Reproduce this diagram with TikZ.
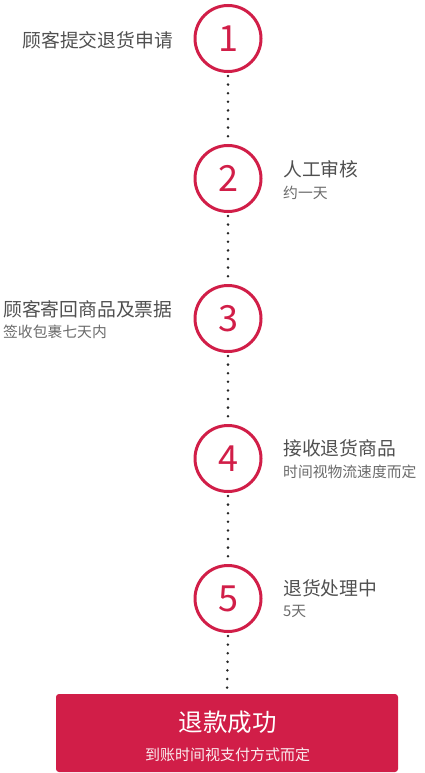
\documentclass[tikz,border=0pt]{standalone}
\usepackage{fontspec}
\setmainfont{Noto Sans CJK SC}
\definecolor{crim}{HTML}{D11E48}
\definecolor{maintxt}{HTML}{505050}
\definecolor{subtxt}{HTML}{6A6A6A}
\begin{document}
\begin{tikzpicture}[x=1pt,y=-1pt,
  stepcirc/.style={circle,draw=crim,line width=3pt,minimum size=66pt,inner sep=0pt,text=crim,font=\fontsize{36}{36}\selectfont},
  maintext/.style={text=maintxt,font=\fontsize{18.8}{20}\selectfont,inner sep=0pt},
  subtext/.style={text=subtxt,font=\fontsize{14.8}{16}\selectfont,inner sep=0pt},
  dotline/.style={draw=black!85,line width=2.8pt,line cap=round,dash pattern=on 0pt off 8.6pt}]
\useasboundingbox (0,0) rectangle (424,773);
\node[stepcirc] (c1) at (228,38.5) {1};
\node[stepcirc] (c2) at (228,178.5) {2};
\node[stepcirc] (c3) at (228,318.5) {3};
\node[stepcirc] (c4) at (228,458.5) {4};
\node[stepcirc] (c5) at (228,598.5) {5};
\node[fill=crim,rounded corners=3pt,minimum width=342pt,minimum height=78pt,inner sep=0pt] (box) at (227,733) {};
\node[text=white,font=\fontsize{24.5}{26}\selectfont,inner sep=0pt] (bt) at (227.5,722) {退款成功};
\node[text=white!92!crim,font=\fontsize{15}{16}\selectfont,inner sep=0pt] (bs) at (227.5,755) {到账时间视支付方式而定};
\draw[dotline] ([yshift=-3pt]c1.south) -- (c2.north);
\draw[dotline] ([yshift=-3pt]c2.south) -- (c3.north);
\draw[dotline] ([yshift=-3pt]c3.south) -- (c4.north);
\draw[dotline] ([yshift=-3pt]c4.south) -- (c5.north);
\draw[dotline] ([yshift=-3pt]c5.south) -- (box.north);
\node[maintext,anchor=east] (t1) at (173,40) {顾客提交退货申请};
\node[maintext,anchor=west] (t2) at (283,169) {人工审核};
\node[subtext,anchor=west] (s2) at (283,193) {约一天};
\node[maintext,anchor=west] (t3) at (3,309) {顾客寄回商品及票据};
\node[subtext,anchor=west] (s3) at (3,332) {签收包裹七天内};
\node[maintext,anchor=west] (t4) at (283,448) {接收退货商品};
\node[subtext,anchor=west] (s4) at (283,472) {时间视物流速度而定};
\node[maintext,anchor=west] (t5) at (283,588) {退货处理中};
\node[subtext,anchor=west] (s5) at (283,611) {5天};
\end{tikzpicture}
\end{document}
